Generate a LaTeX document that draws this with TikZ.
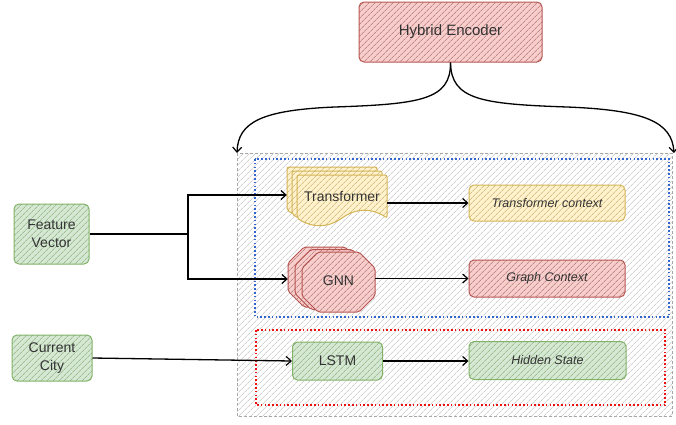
\documentclass[tikz,border=0pt]{standalone}
\usepackage{fontspec}
\setmainfont{Liberation Sans}
\usetikzlibrary{arrows.meta,patterns.meta,calc}
\definecolor{gfill}{HTML}{D5E8D4}
\definecolor{gline}{HTML}{82B366}
\definecolor{yfill}{HTML}{FFF2CC}
\definecolor{yline}{HTML}{D6B656}
\definecolor{rfill}{HTML}{F8CECC}
\definecolor{rline}{HTML}{B85450}
\definecolor{txtc}{HTML}{333333}
\definecolor{blued}{HTML}{3366CC}
\definecolor{redd}{HTML}{EE1111}
\tikzset{
  hatch/.style={postaction={pattern={Lines[angle=45,distance=4pt,line width=0.5pt]},pattern color=#1}},
  box/.style={rounded corners=5pt, line width=1pt, text=txtc, align=center, inner sep=0pt,
    font=\fontsize{14}{18}\selectfont},
  gbox/.style={box, draw=gline, fill=gfill, hatch=gline!75!gray},
  ybox/.style={box, draw=yline, fill=yfill, hatch=yline!75!gray},
  rbox/.style={box, draw=rline, fill=rfill, hatch=rline!60!gray},
  ital/.style={font=\fontsize{12.5}{15}\selectfont\itshape},
  lbl/.style={text=txtc, font=\fontsize{14}{18}\selectfont, inner sep=0pt},
  ghost/.style={inner sep=0pt, draw=none},
  arr/.style={-{Straight Barb[length=5pt,width=9pt,line width=1.2pt]}, line width=1.3pt, black},
  dotbox/.style={line width=1.8pt, dash pattern=on 1.6pt off 2.2pt},
  yshape/.style={draw=yline, fill=yfill, line width=1pt, rounded corners=2pt, hatch=yline!75!gray},
  rshape/.style={draw=rline, fill=rfill, line width=1pt, rounded corners=2pt, hatch=rline!60!gray}
}
\newcommand{\docshape}[3]{%
  \path[#3, shift={(#1,#2)}] (0,0) -- (90,0) -- (90,43)
    .. controls (75,33) and (60,33) .. (45,43)
    .. controls (30,53) and (15,53) .. (0,43) -- cycle;}
\newcommand{\octshape}[3]{%
  \path[#3, shift={(#1,#2)}] (16,0) -- (57,0) -- (73,16) -- (73,44) -- (57,60)
    -- (16,60) -- (0,44) -- (0,16) -- cycle;}
\begin{document}
\begin{tikzpicture}[x=1pt,y=-1pt]
\useasboundingbox (0,0) rectangle (676,424);

% container
\path[fill=white, draw=gray!70, line width=1pt, dash pattern=on 3pt off 2pt,
  hatch=gray!55] (237,153) rectangle (672,416);
\draw[dotbox, blued] (255,159) rectangle (669,317);
\draw[dotbox, redd] (256,330) rectangle (665,405);

% top
\node[rbox, minimum width=183, minimum height=60, font=\fontsize{15}{18}\selectfont]
  (he) at (450.5,32) {Hybrid Encoder};

% inputs
\node[gbox, minimum width=75, minimum height=60] (fv) at (51.5,234) {Feature\\Vector};
\node[gbox, minimum width=80, minimum height=46] (cc) at (52,358) {Current\\City};

% transformer stack
\docshape{287}{167}{yshape}
\docshape{292}{171}{yshape}
\docshape{297}{175}{yshape}
\node[ghost, minimum width=100, minimum height=58] (tr) at (337,196) {};
\node[lbl] (trlbl) at (342,196) {Transformer};

% GNN stack
\octshape{288}{247}{rshape}
\octshape{295}{249.5}{rshape}
\octshape{302}{252}{rshape}
\node[ghost, minimum width=87, minimum height=65] (gnn) at (331.5,279) {};
\node[lbl] (gnnlbl) at (338.5,281) {GNN};

% LSTM
\node[gbox, minimum width=90, minimum height=38] (lstm) at (337.5,361) {LSTM};

% outputs
\node[ybox, ital, minimum width=156, minimum height=36] (tc) at (547,203) {Transformer context};
\node[rbox, ital, minimum width=156, minimum height=37] (gc) at (547,278.5) {Graph Context};
\node[gbox, ital, minimum width=157, minimum height=38] (hs) at (547.5,360.5) {Hidden State};

% connectors
\coordinate (split) at (188,234);
\draw[line width=1.3pt] (fv.east) -- (split);
\draw[arr] (split) |- (tr.west |- 0,195);
\draw[arr] (split) |- (gnn.west);
\draw[arr] (cc.east) -- (lstm.west);
\draw[arr] (tr.east |- tc.west) -- (tc.west);
\draw[arr] (gnn.east |- gc.west) -- (gc.west);
\draw[arr] (lstm.east) -- (hs.west |- lstm.east);

% encoder curves
\coordinate (lt) at (237,153);
\coordinate (rt) at (674,153);
\draw[arr] (he.south) .. controls (451,100) and (420,104) .. (335,107)
  .. controls (262,110) and (238,122) .. (lt);
\draw[arr] (he.south) .. controls (451,100) and (482,104) .. (567,107)
  .. controls (645,110) and (672,122) .. (rt);
\end{tikzpicture}
\end{document}
